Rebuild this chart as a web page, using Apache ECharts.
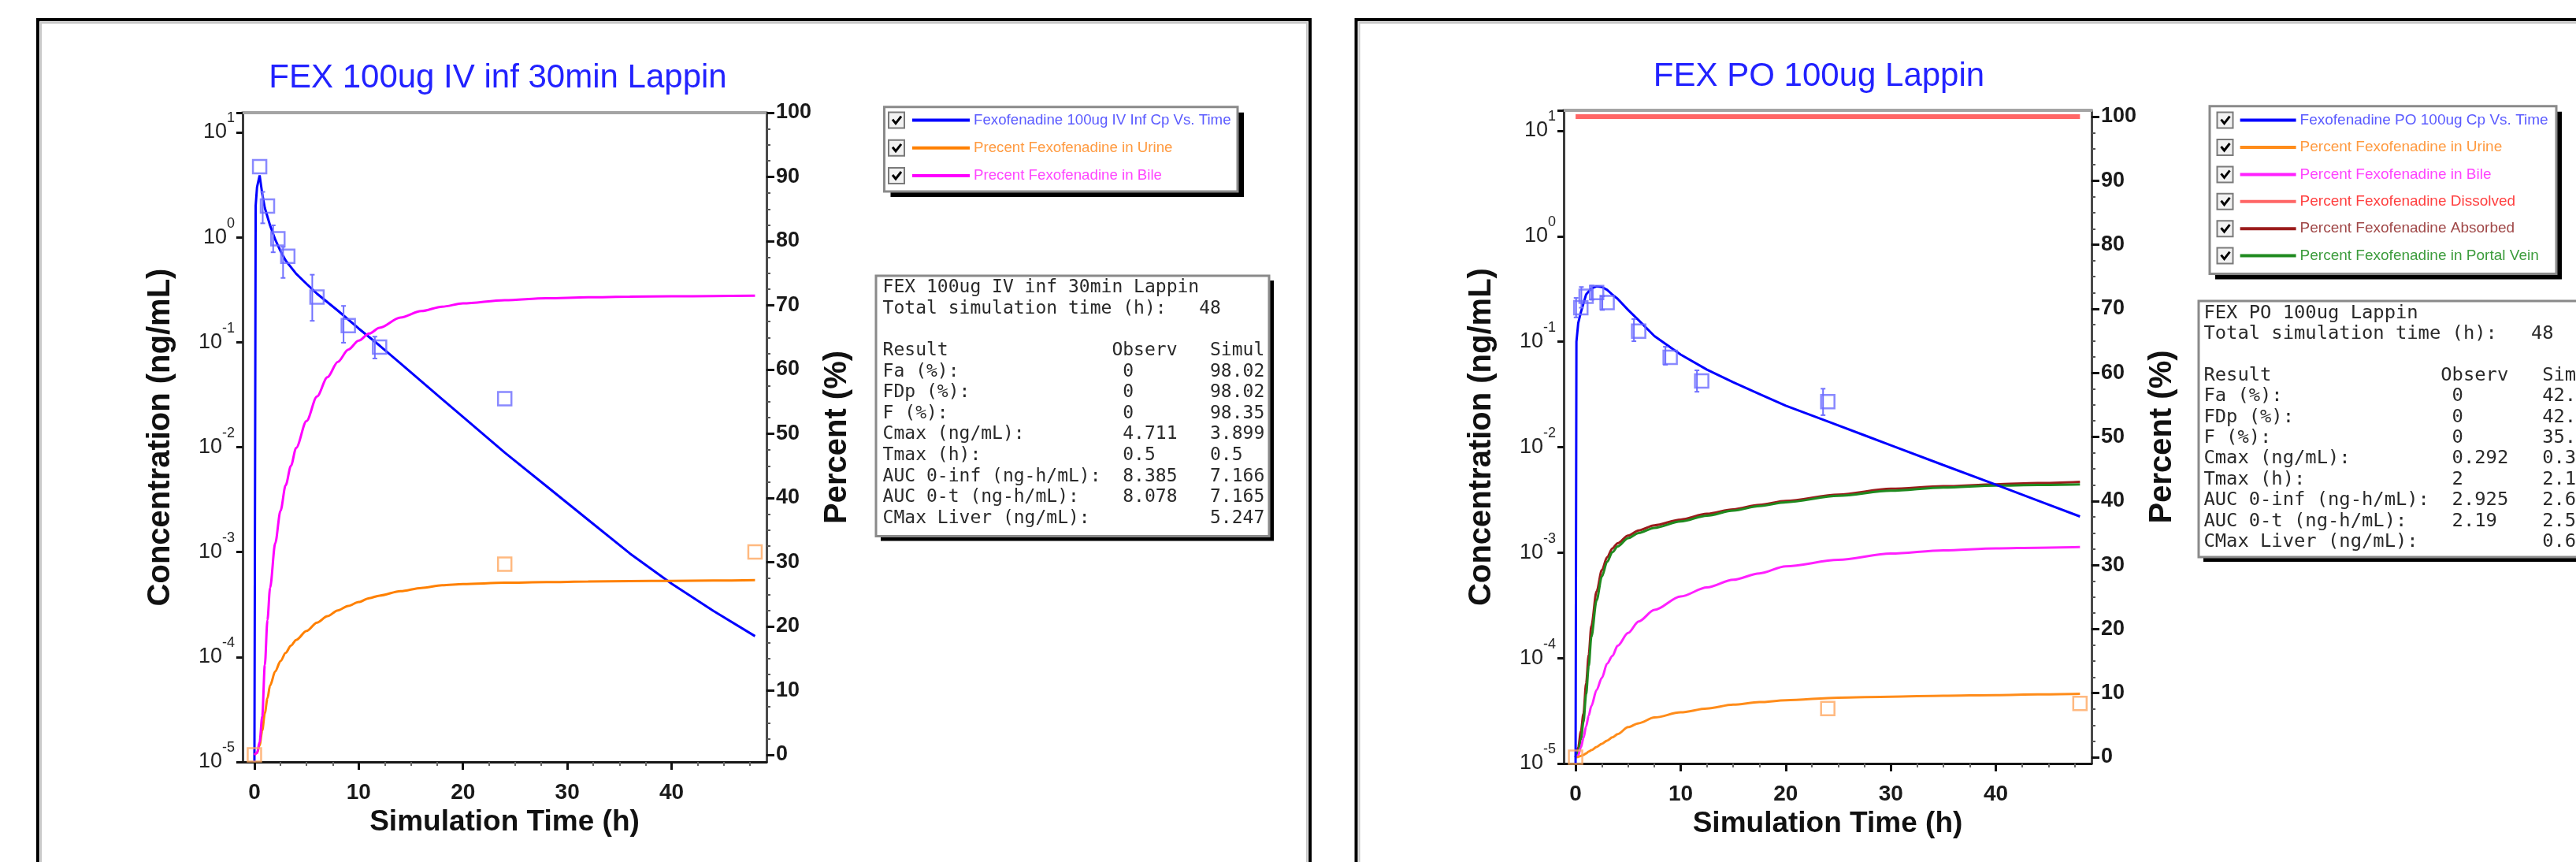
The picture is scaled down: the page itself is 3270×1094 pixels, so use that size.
<!DOCTYPE html>
<html>
<head>
<meta charset="utf-8">
<script src="https://cdn.jsdelivr.net/npm/echarts@6/dist/echarts.min.js"></script>
<style>
html,body{margin:0;padding:0;background:#fff;}
#chart{width:3270px;height:1094px;}
</style>
</head>
<body>
<div id="chart"></div>
<script>
// ---------------- DATA ----------------
const ivTitle = 'FEX 100ug IV inf 30min Lappin';
const poTitle = 'FEX PO 100ug Lappin';

// Axis tick values
const xTicks = [0, 10, 20, 30, 40];
const xMinorTicks = [2.5, 5, 7.5, 12.5, 15, 17.5, 22.5, 25, 27.5, 32.5, 35, 37.5, 42.5, 45, 47.5];
const pctTicks = [0, 10, 20, 30, 40, 50, 60, 70, 80, 90, 100];
const pctMinorTicks = [2.5, 5, 7.5, 12.5, 15, 17.5, 22.5, 25, 27.5, 32.5, 35, 37.5, 42.5, 45, 47.5,
  52.5, 55, 57.5, 62.5, 65, 67.5, 72.5, 75, 77.5, 82.5, 85, 87.5, 92.5, 95, 97.5];

// ---- IV infusion panel ----
const ivSeriesNames = ['Fexofenadine 100ug IV Inf Cp Vs. Time', 'Precent Fexofenadine in Urine', 'Precent Fexofenadine in Bile'];
const ivCpTime = [0, 0.12, 0.25, 0.5, 0.75, 1, 1.5, 2, 2.5, 3, 4, 5, 6, 8, 10, 12, 14, 16, 18, 20, 24, 28, 32, 36, 40, 44, 48];
const ivCp = [1e-5, 2.0, 3.0, 3.9, 2.6, 1.9, 1.3, 0.95, 0.74, 0.6, 0.45, 0.36, 0.29, 0.2, 0.135, 0.093, 0.063, 0.0425, 0.0287, 0.0194, 0.00887, 0.00425, 0.00203, 0.00097, 0.0005, 0.000275, 0.000158];
const ivPctTime = [0, 0.25, 0.5, 0.75, 1, 1.25, 1.5, 2, 2.5, 3, 3.5, 4, 5, 6, 7, 8, 9, 10, 11, 12, 14, 16, 18, 20, 24, 28, 32, 36, 40, 44, 48];
const ivUrine = [0, 0.3, 1.5, 3.8, 6.5, 8.8, 10.8, 13.0, 14.6, 15.9, 17.0, 17.9, 19.3, 20.6, 21.6, 22.5, 23.2, 23.8, 24.4, 24.8, 25.5, 26.0, 26.4, 26.6, 26.8, 26.9, 27.0, 27.05, 27.1, 27.15, 27.2];
const ivBile = [0, 0.3, 2, 6, 14, 21, 26, 33, 38, 42, 45, 47.8, 52, 55.8, 58.8, 61.2, 63.1, 64.5, 65.6, 66.5, 68.1, 69.1, 69.8, 70.3, 70.8, 71.1, 71.25, 71.35, 71.4, 71.45, 71.5];
const ivObsTime = [0.5, 1.25, 2.25, 3.2, 6, 9, 12, 24];
const ivObsCp = [4.711, 1.99, 0.97, 0.66, 0.27, 0.144, 0.09, 0.029];
const ivObsLo = [4.711, 1.36, 0.72, 0.41, 0.16, 0.099, 0.070, 0.029];
const ivObsHi = [4.711, 2.71, 1.30, 0.81, 0.44, 0.222, 0.113, 0.029];
const ivObsUrineTime = [0, 24, 48];
const ivObsUrine = [0, 29.7, 31.6];

// ---- PO panel ----
const poSeriesNames = ['Fexofenadine PO 100ug Cp Vs. Time', 'Percent Fexofenadine in Urine', 'Percent Fexofenadine in Bile',
  'Percent Fexofenadine Dissolved', 'Percent Fexofenadine Absorbed', 'Percent Fexofenadine in Portal Vein'];
const poCpTime = [0, 0.08, 0.25, 0.5, 1, 1.5, 2, 2.5, 3, 3.5, 4, 5, 6, 7.5, 10, 12.5, 15, 17.5, 20, 24, 27.5, 30, 35, 40, 44, 48];
const poCp = [1e-5, 0.1, 0.15, 0.19, 0.28, 0.32, 0.335, 0.33, 0.31, 0.28, 0.255, 0.2, 0.16, 0.113, 0.0754, 0.0543, 0.0413, 0.0319, 0.0247, 0.0175, 0.01294, 0.01042, 0.00676, 0.0044, 0.00311, 0.0022];
const poPctTime = [0, 0.25, 0.5, 0.75, 1, 1.25, 1.5, 2, 2.5, 3, 3.5, 4, 5, 6, 7.5, 10, 12.5, 15, 17.5, 20, 25, 30, 35, 40, 44, 48];
const poUrine = [0, 0.05, 0.2, 0.35, 0.6, 0.9, 1.1, 1.6, 2.1, 2.6, 3.1, 3.6, 4.7, 5.3, 6.2, 7.0, 7.6, 8.2, 8.6, 8.9, 9.3, 9.45, 9.6, 9.7, 9.8, 9.9];
const poBile = [0, 0.3, 1.5, 3, 4.8, 6.5, 8, 10.5, 12.4, 14.6, 15.8, 17.4, 19.4, 21.2, 23.0, 25.1, 26.5, 27.7, 28.7, 29.8, 30.8, 31.8, 32.3, 32.6, 32.7, 32.8];
const poDissolved = [100, 100, 100, 100, 100, 100, 100, 100, 100, 100, 100, 100, 100, 100, 100, 100, 100, 100, 100, 100, 100, 100, 100, 100, 100, 100];
const poAbsorbed = [0, 1.5, 4, 6.8, 11.5, 16, 20.5, 25.9, 29.2, 31.2, 32.6, 33.4, 34.6, 35.4, 36.2, 37.1, 38.0, 38.7, 39.4, 40.0, 41.0, 41.9, 42.3, 42.6, 42.8, 43.0];
const poPortal = [0, 0.8, 2.8, 5.5, 9.8, 14.2, 18.8, 24.5, 28.2, 30.5, 32.0, 32.9, 34.2, 35.0, 35.8, 36.8, 37.7, 38.5, 39.2, 39.8, 40.8, 41.6, 42.1, 42.4, 42.5, 42.6];
const poObsTime = [0.5, 1, 2, 3, 6, 9, 12, 24];
const poObsCp = [0.21, 0.27, 0.292, 0.235, 0.126, 0.071, 0.0425, 0.027];
const poObsLo = [0.17, 0.21, 0.25, 0.2, 0.101, 0.0605, 0.0335, 0.0201];
const poObsHi = [0.26, 0.33, 0.34, 0.27, 0.164, 0.0895, 0.0535, 0.0358];
const poObsUrineTime = [0, 24, 48];
const poObsUrine = [0, 7.6, 8.4];

// ---- result tables ----
const statLabels = ['Fa (%):', 'FDp (%):', 'F (%):', 'Cmax (ng/mL):', 'Tmax (h):', 'AUC 0-inf (ng-h/mL):', 'AUC 0-t (ng-h/mL):', 'CMax Liver (ng/mL):'];
const ivStatObserv = ['0', '0', '0', '4.711', '0.5', '8.385', '8.078', ''];
const ivStatSimul = ['98.02', '98.02', '98.35', '3.899', '0.5', '7.166', '7.165', '5.247'];
const poStatObserv = ['0', '0', '0', '0.292', '2', '2.925', '2.19', ''];
const poStatSimul = ['42.', '42.', '35.', '0.3', '2.1', '2.6', '2.5', '0.6'];
const simTotalTime = '48';

// ---------------- BUILD ----------------
const FONT = '"Liberation Sans", Arial, Helvetica, sans-serif';
const MONO = '"DejaVu Sans Mono", "Liberation Mono", monospace';
const zip = (a, b) => a.map((t, i) => [t, b[i]]);
const zip3 = (a, b, c) => a.map((t, i) => [t, b[i], c[i]]);

function logLabel(v) {
  const e = Math.log10(v);
  const r = Math.round(e);
  if (Math.abs(e - r) > 1e-6) return '';
  return '{b|10}{s|' + r + '}';
}

const grids = [
  { left: 308, top: 143, width: 665, height: 824 },
  { left: 1985, top: 140, width: 670, height: 829 }
];
const logMax = [15.41, 15.63];
const pctMin = [-1.10, -0.98];
const pctMax = [100, 100.98];

const xAxes = [], yAxes = [];
for (let k = 0; k < 2; k++) {
  xAxes.push({
    type: 'value', gridIndex: k, min: -1.13, max: 49.1, position: 'bottom',
    axisLine: { show: true, onZero: false, lineStyle: { color: '#161616', width: 3 } },
    axisTick: { show: true, customValues: xTicks, length: 10, lineStyle: { color: '#111', width: 3 } },
    axisLabel: { show: true, customValues: xTicks, fontSize: 28, fontWeight: 'bold', color: '#1a1a1a', margin: 25, fontFamily: FONT },
    splitLine: { show: false },
    name: 'Simulation Time (h)', nameLocation: 'middle', nameGap: 55,
    nameTextStyle: { fontSize: 37, fontWeight: 'bold', color: '#111', fontFamily: FONT }
  });
  xAxes.push({
    type: 'value', gridIndex: k, min: -1.13, max: 49.1, position: 'bottom',
    axisLine: { show: false, onZero: false },
    axisTick: { show: true, customValues: xMinorTicks, length: 5, lineStyle: { color: '#666', width: 2 } },
    axisLabel: { show: false }, splitLine: { show: false }
  });
  xAxes.push({
    type: 'value', gridIndex: k, min: -1.13, max: 49.1, position: 'top',
    axisLine: { show: true, onZero: false, lineStyle: { color: '#a4a4a4', width: 4 } },
    axisTick: { show: false }, axisLabel: { show: false }, splitLine: { show: false }
  });
  yAxes.push({
    type: 'log', logBase: 10, gridIndex: k, min: 1e-5, max: logMax[k], position: 'left',
    axisLine: { show: true, onZero: false, lineStyle: { color: '#3c3c3c', width: 3 } },
    axisTick: { show: true, length: 8, lineStyle: { color: '#111', width: 3 } },
    axisLabel: {
      formatter: logLabel, margin: 10, color: '#222',
      rich: {
        b: { fontSize: 27, color: '#222', fontFamily: FONT, padding: [13, 0, 13, 0] },
        s: { fontSize: 18, color: '#222', fontFamily: FONT, verticalAlign: 'top' }
      }
    },
    splitLine: { show: false },
    name: 'Concentration (ng/mL)', nameLocation: 'middle', nameGap: 84,
    nameTextStyle: { fontSize: 40, fontWeight: 'bold', color: '#111', fontFamily: FONT }
  });
  yAxes.push({
    type: 'value', gridIndex: k, min: pctMin[k], max: pctMax[k], position: 'right',
    axisLine: { show: true, onZero: false, lineStyle: { color: '#4a4a4a', width: 3 } },
    axisTick: { show: true, customValues: pctTicks, length: 10, lineStyle: { color: '#111', width: 3 } },
    axisLabel: { customValues: pctTicks, fontSize: 27, fontWeight: 'bold', color: '#1a1a1a', margin: 12, fontFamily: FONT },
    splitLine: { show: false },
    name: 'Percent (%)', nameLocation: 'middle', nameGap: 70,
    nameTextStyle: { fontSize: 40, fontWeight: 'bold', color: '#111', fontFamily: FONT }
  });
  yAxes.push({
    type: 'value', gridIndex: k, min: pctMin[k], max: pctMax[k], position: 'right',
    axisLine: { show: false, onZero: false },
    axisTick: { show: true, customValues: pctMinorTicks, length: 5, lineStyle: { color: '#555', width: 2 } },
    axisLabel: { show: false }, splitLine: { show: false }
  });
}

function simLine(name, k, onPct, data, color, width, smooth) {
  return {
    name, type: 'line', xAxisIndex: 3 * k, yAxisIndex: 3 * k + (onPct ? 1 : 0),
    data, color, showSymbol: false, symbol: 'none', smooth: smooth, smoothMonotone: 'x',
    lineStyle: { width: width || 3, color }, silent: true, z: 3
  };
}
function obsScatter(name, k, onPct, data, color) {
  return {
    name, type: 'scatter', xAxisIndex: 3 * k, yAxisIndex: 3 * k + (onPct ? 1 : 0), data,
    symbol: 'rect', symbolSize: 17,
    itemStyle: { color: 'rgba(0,0,0,0)', borderColor: color, borderWidth: 2.5 }, silent: true, z: 4
  };
}
function errBars(name, k, data, color) {
  return {
    name, type: 'custom', xAxisIndex: 3 * k, yAxisIndex: 3 * k, data, silent: true, z: 4,
    encode: { x: 0, y: [1, 2] },
    renderItem: function (params, api) {
      const lo = api.coord([api.value(0), api.value(1)]);
      const hi = api.coord([api.value(0), api.value(2)]);
      const x = lo[0] - 6;
      if (Math.abs(lo[1] - hi[1]) < 1) return { type: 'group', children: [] };
      const st = { stroke: color, lineWidth: 2 };
      return { type: 'group', children: [
        { type: 'line', shape: { x1: x, y1: lo[1], x2: x, y2: hi[1] }, style: st },
        { type: 'line', shape: { x1: x - 3, y1: lo[1], x2: x + 3, y2: lo[1] }, style: st },
        { type: 'line', shape: { x1: x - 3, y1: hi[1], x2: x + 3, y2: hi[1] }, style: st }
      ] };
    }
  };
}

const series = [
  simLine(ivSeriesNames[0], 0, false, zip(ivCpTime, ivCp), '#0000ff', 3, false),
  simLine(ivSeriesNames[1], 0, true, zip(ivPctTime, ivUrine), '#ff8000', 3, 0.3),
  simLine(ivSeriesNames[2], 0, true, zip(ivPctTime, ivBile), '#ff00ff', 3, 0.3),
  errBars('ivObsErr', 0, zip3(ivObsTime, ivObsLo, ivObsHi), '#7070ff'),
  obsScatter('ivObsCp', 0, false, zip(ivObsTime, ivObsCp), '#6b6bff'),
  obsScatter('ivObsUrine', 0, true, zip(ivObsUrineTime, ivObsUrine), '#ffa860'),

  simLine(poSeriesNames[3], 1, true, zip(poPctTime, poDissolved), '#ff6666', 6, false),
  simLine(poSeriesNames[4], 1, true, zip(poPctTime, poAbsorbed), '#9b1c1c', 3, 0.3),
  simLine(poSeriesNames[5], 1, true, zip(poPctTime, poPortal), '#1f8a1f', 3, 0.3),
  simLine(poSeriesNames[2], 1, true, zip(poPctTime, poBile), '#ff20ff', 3, 0.3),
  simLine(poSeriesNames[1], 1, true, zip(poPctTime, poUrine), '#ff8c1a', 3, 0.3),
  simLine(poSeriesNames[0], 1, false, zip(poCpTime, poCp), '#0000ff', 3, false),
  errBars('poObsErr', 1, zip3(poObsTime, poObsLo, poObsHi), '#7070ff'),
  obsScatter('poObsCp', 1, false, zip(poObsTime, poObsCp), '#6b6bff'),
  obsScatter('poObsUrine', 1, true, zip(poObsUrineTime, poObsUrine), '#ffa860')
];

const ivLegendColors = ['#5a5aff', '#ff9a40', '#ff44ff'];
const poLegendColors = ['#5a5aff', '#ff9a40', '#ff44ff', '#ff4040', '#a04848', '#3c9c3c'];
const legends = [
  {
    orient: 'vertical', left: 1158, top: 142.6, padding: 0, itemWidth: 73, itemHeight: 4, itemGap: 15.2,
    icon: 'rect', selectedMode: false, itemStyle: { borderWidth: 0 },
    textStyle: { fontSize: 18.7, fontFamily: FONT, lineHeight: 20 },
    data: ivSeriesNames.map((n, i) => ({ name: n, textStyle: { color: ivLegendColors[i] } }))
  },
  {
    orient: 'vertical', left: 2843.6, top: 142.6, padding: 0, itemWidth: 71, itemHeight: 4, itemGap: 14.4,
    icon: 'rect', selectedMode: false, itemStyle: { borderWidth: 0 },
    textStyle: { fontSize: 19, fontFamily: FONT, lineHeight: 20 },
    data: poSeriesNames.map((n, i) => ({ name: n, textStyle: { color: poLegendColors[i] } }))
  }
];

// ---- decorations (frames, legend boxes, checkboxes, result tables, titles) ----
function boxWithShadow(x, y, w, h, dx, dy) {
  return [
    { type: 'rect', shape: { x: x + dx, y: y + dy, width: w, height: h }, style: { fill: '#000' }, silent: true },
    { type: 'rect', shape: { x: x, y: y, width: w, height: h }, style: { fill: '#fff', stroke: '#8a8a8a', lineWidth: 3 }, silent: true }
  ];
}
function checkbox(x, cy) {
  return [
    { type: 'rect', shape: { x: x, y: cy - 10, width: 20, height: 20 }, style: { fill: '#f2f2f2', stroke: '#7a7a7a', lineWidth: 2 }, silent: true },
    { type: 'polyline', shape: { points: [[x + 5, cy - 1], [x + 9, cy + 4], [x + 16, cy - 5]] }, style: { fill: null, stroke: '#000', lineWidth: 3 }, silent: true }
  ];
}
function tableText(title, obs, sim) {
  const lines = [title, 'Total simulation time (h):   ' + simTotalTime, '', 'Result'.padEnd(21) + 'Observ'.padEnd(9) + 'Simul'];
  statLabels.forEach((l, i) => lines.push(l.padEnd(22) + obs[i].padEnd(8) + sim[i]));
  return lines.join('\n');
}

const graphics = [];
graphics.push({ type: 'rect', shape: { x: 48, y: 25, width: 1615, height: 1120 }, style: { fill: null, stroke: '#000', lineWidth: 4 }, silent: true });
graphics.push({ type: 'rect', shape: { x: 52, y: 29, width: 1607, height: 1120 }, style: { fill: null, stroke: '#c8c8c8', lineWidth: 2 }, silent: true });
graphics.push({ type: 'rect', shape: { x: 1721.5, y: 25, width: 1700, height: 1120 }, style: { fill: null, stroke: '#000', lineWidth: 4 }, silent: true });
graphics.push({ type: 'rect', shape: { x: 1725.5, y: 29, width: 1700, height: 1120 }, style: { fill: null, stroke: '#c8c8c8', lineWidth: 2 }, silent: true });
graphics.push({ type: 'text', x: 632, y: 99, style: { text: ivTitle, fill: '#2222ff', font: '42px ' + FONT, align: 'center', verticalAlign: 'middle' }, silent: true });
graphics.push({ type: 'text', x: 2309, y: 97.5, style: { text: poTitle, fill: '#2222ff', font: '42px ' + FONT, align: 'center', verticalAlign: 'middle' }, silent: true });
graphics.push(...boxWithShadow(1122.5, 135.7, 448.5, 107.2, 8, 7));
graphics.push(...boxWithShadow(2805, 134.7, 440, 212.7, 7, 7));
[0, 1, 2].forEach(i => graphics.push(...checkbox(1128, 152.6 + i * 35.2)));
[0, 1, 2, 3, 4, 5].forEach(i => graphics.push(...checkbox(2814.5, 152.6 + i * 34.4)));
graphics.push(...boxWithShadow(1112, 350, 499, 330.6, 6, 6));
graphics.push(...boxWithShadow(2791, 382, 600, 325, 6, 6));
graphics.push({ type: 'text', x: 1120.6, y: 352, style: { text: tableText(ivTitle, ivStatObserv, ivStatSimul), fill: '#2a2a2a', font: '23px ' + MONO, lineHeight: 26.6, align: 'left', verticalAlign: 'top' }, silent: true });
graphics.push({ type: 'text', x: 2797.4, y: 384.2, style: { text: tableText(poTitle, poStatObserv, poStatSimul), fill: '#2a2a2a', font: '23.8px ' + MONO, lineHeight: 26.4, align: 'left', verticalAlign: 'top' }, silent: true });

const chart = echarts.init(document.getElementById('chart'), null, { renderer: 'canvas' });
chart.setOption({
  animation: false,
  backgroundColor: '#fff',
  grid: grids,
  xAxis: xAxes,
  yAxis: yAxes,
  legend: legends,
  series: series,
  graphic: graphics
});
</script>
</body>
</html>
